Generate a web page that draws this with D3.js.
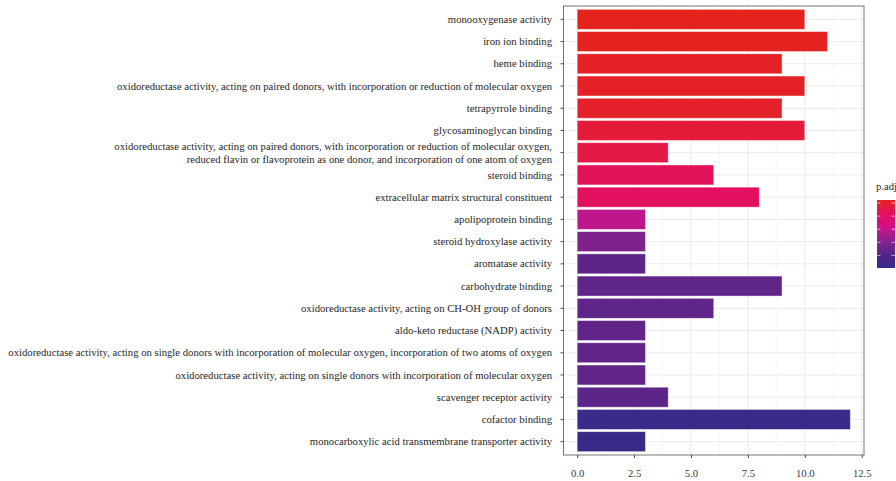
<!DOCTYPE html>
<html>
<head>
<meta charset="utf-8">
<script src="https://cdn.jsdelivr.net/npm/d3@7"></script>
<style>
  html, body { margin: 0; padding: 0; background: #fff; overflow: hidden; }
  svg { display: block; }
  text { font-family: "Liberation Serif", "DejaVu Serif", serif; }
</style>
</head>
<body>
<svg id="chart" width="896" height="481"></svg>
<script>
// GO molecular function terms (top to bottom), gene counts and adjusted p-values
const terms = [
  "monooxygenase activity",
  "iron ion binding",
  "heme binding",
  "oxidoreductase activity, acting on paired donors, with incorporation or reduction of molecular oxygen",
  "tetrapyrrole binding",
  "glycosaminoglycan binding",
  "oxidoreductase activity, acting on paired donors, with incorporation or reduction of molecular oxygen,\nreduced flavin or flavoprotein as one donor, and incorporation of one atom of oxygen",
  "steroid binding",
  "extracellular matrix structural constituent",
  "apolipoprotein binding",
  "steroid hydroxylase activity",
  "aromatase activity",
  "carbohydrate binding",
  "oxidoreductase activity, acting on CH-OH group of donors",
  "aldo-keto reductase (NADP) activity",
  "oxidoreductase activity, acting on single donors with incorporation of molecular oxygen, incorporation of two atoms of oxygen",
  "oxidoreductase activity, acting on single donors with incorporation of molecular oxygen",
  "scavenger receptor activity",
  "cofactor binding",
  "monocarboxylic acid transmembrane transporter activity"
];
const counts = [10, 11, 9, 10, 9, 10, 4, 6, 8, 3, 3, 3, 9, 6, 3, 3, 3, 4, 12, 3];
const pAdjust = [0.0523, 0.0519, 0.0512, 0.0508, 0.0503, 0.0482, 0.0461, 0.0430, 0.0418, 0.0290,
                 0.0190, 0.0128, 0.0130, 0.0133, 0.0134, 0.0134, 0.0135, 0.0126, 0.0009, 0.0004];
const xTicks = [0, 2.5, 5, 7.5, 10, 12.5];
const xMinorTicks = [1.25, 3.75, 6.25, 8.75, 11.25];
const legendBreaks = [0.01, 0.02, 0.03, 0.04, 0.05];
const fillStops = ["#3a2a88", "#522587", "#8a2090", "#cf108a", "#e2105e", "#e4231c"];

const data = terms.map((t, i) => ({ term: t, count: counts[i], p: pAdjust[i] }));

const svg = d3.select("#chart");
const panel = { left: 563.5, right: 864, top: 6, bottom: 455 };
const fontSize = "10.7px";

const x = d3.scaleLinear().domain([-0.6, 12.6]).range([panel.left, panel.right]);
const y = d3.scaleBand().domain(terms).range([panel.top, panel.bottom])
  .paddingInner(0.1).paddingOuter(0.15);

const pExt = d3.extent(pAdjust);
const stopDomain = fillStops.map((_, i) => pExt[0] + (pExt[1] - pExt[0]) * i / (fillStops.length - 1));
const fill = d3.scaleLinear().domain(stopDomain).range(fillStops).interpolate(d3.interpolateLab);

// panel background and grid
svg.append("rect").attr("x", panel.left).attr("y", panel.top)
  .attr("width", panel.right - panel.left).attr("height", panel.bottom - panel.top)
  .attr("fill", "#fff");

const grid = svg.append("g");
grid.selectAll(".minor").data(xMinorTicks).join("line")
  .attr("x1", d => x(d)).attr("x2", d => x(d))
  .attr("y1", panel.top).attr("y2", panel.bottom)
  .attr("stroke", "#f3f3f3").attr("stroke-width", 0.6);
grid.selectAll(".major").data(xTicks).join("line")
  .attr("x1", d => x(d)).attr("x2", d => x(d))
  .attr("y1", panel.top).attr("y2", panel.bottom)
  .attr("stroke", "#ebebeb").attr("stroke-width", 1);
grid.selectAll(".hmajor").data(terms).join("line")
  .attr("x1", panel.left).attr("x2", panel.right)
  .attr("y1", d => y(d) + y.bandwidth() / 2).attr("y2", d => y(d) + y.bandwidth() / 2)
  .attr("stroke", "#ebebeb").attr("stroke-width", 1);

// bars
svg.append("g").selectAll("rect").data(data).join("rect")
  .attr("x", x(0))
  .attr("y", d => y(d.term))
  .attr("width", d => x(d.count) - x(0))
  .attr("height", y.bandwidth())
  .attr("fill", d => fill(d.p))
  .attr("stroke", "#ffffff").attr("stroke-opacity", 0.55).attr("stroke-width", 0.8);

// panel border
svg.append("rect").attr("x", panel.left).attr("y", panel.top)
  .attr("width", panel.right - panel.left).attr("height", panel.bottom - panel.top)
  .attr("fill", "none").attr("stroke", "#666").attr("stroke-width", 0.9);

// x axis
const xAxis = d3.axisBottom(x).tickValues(xTicks).tickFormat(d3.format(".1f"))
  .tickSize(3).tickPadding(11);
const gx = svg.append("g").attr("transform", `translate(0,${panel.bottom})`).call(xAxis);
gx.select(".domain").remove();
gx.selectAll(".tick line").attr("stroke", "#333").attr("stroke-width", 0.9);
gx.selectAll(".tick text").attr("fill", "#3a3a3a")
  .style("font-family", "'Liberation Serif', serif").style("font-size", fontSize);

// y axis ticks; labels are drawn separately so long terms can wrap
const yAxis = d3.axisLeft(y).tickSize(3).tickFormat("");
const gy = svg.append("g").attr("transform", `translate(${panel.left},0)`).call(yAxis);
gy.select(".domain").remove();
gy.selectAll(".tick line").attr("stroke", "#333").attr("stroke-width", 0.9);
gy.selectAll(".tick text").remove();

const labels = svg.append("g");
terms.forEach(t => {
  const lines = t.split("\n");
  const cy = y(t) + y.bandwidth() / 2;
  const lh = 13;
  lines.forEach((ln, k) => {
    labels.append("text")
      .attr("x", panel.left - 11.5)
      .attr("y", cy + (k - (lines.length - 1) / 2) * lh)
      .attr("dy", "0.34em")
      .attr("text-anchor", "end")
      .attr("fill", "#262626")
      .style("font-size", fontSize)
      .text(ln);
  });
});

// legend: colourbar for p.adjust
const leg = { x: 877, top: 200, bottom: 268, w: 18 };
svg.append("text").attr("x", 876).attr("y", 190)
  .attr("fill", "#262626").style("font-size", fontSize).text("p.adjust");

const defs = svg.append("defs");
const grad = defs.append("linearGradient").attr("id", "pgrad")
  .attr("x1", 0).attr("x2", 0).attr("y1", 1).attr("y2", 0);
d3.range(0, 1.0001, 0.05).forEach(f => {
  const v = pExt[0] + f * (pExt[1] - pExt[0]);
  grad.append("stop").attr("offset", f).attr("stop-color", fill(v));
});
svg.append("rect").attr("x", leg.x).attr("y", leg.top)
  .attr("width", leg.w).attr("height", leg.bottom - leg.top)
  .attr("fill", "url(#pgrad)");

const ly = d3.scaleLinear().domain(pExt).range([leg.bottom, leg.top]);
const lt = svg.append("g");
legendBreaks.forEach(b => {
  lt.append("line").attr("x1", leg.x).attr("x2", leg.x + 3.5)
    .attr("y1", ly(b)).attr("y2", ly(b)).attr("stroke", "#fff").attr("stroke-opacity", 0.6);
  lt.append("line").attr("x1", leg.x + leg.w - 3.5).attr("x2", leg.x + leg.w)
    .attr("y1", ly(b)).attr("y2", ly(b)).attr("stroke", "#fff").attr("stroke-opacity", 0.6);
});
</script>
</body>
</html>
